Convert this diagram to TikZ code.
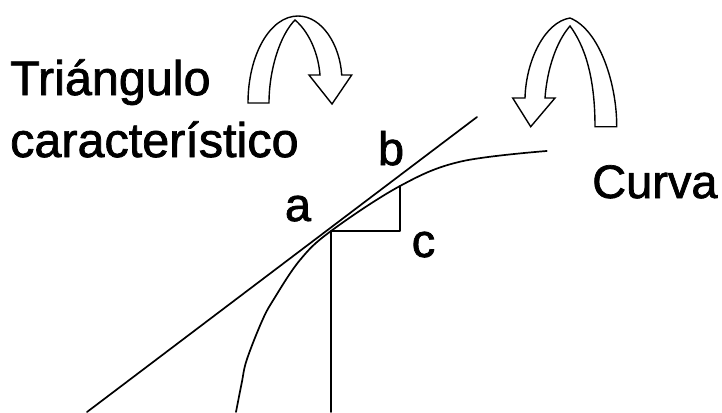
\documentclass[tikz,border=0pt]{standalone}
\usepackage{fontspec}
\setmainfont{Liberation Sans}[FakeBold=1.5]
\begin{document}
\begin{tikzpicture}[x=1pt,y=-1pt,
  lbl/.style={inner sep=0pt,font=\fontsize{47}{56}\selectfont\addfontfeature{FakeBold=1.5}},
  biglbl/.style={lbl,font=\fontsize{48.5}{58}\selectfont\addfontfeature{FakeBold=1.5}},
  ln/.style={line width=1.7pt,line join=round,line cap=round},
  bent/.style={draw,fill=white,line width=1.4pt,line join=miter}]
\useasboundingbox[fill=white] (0,0) rectangle (722,412);
% labels
\node[biglbl,anchor=base west] (t1) at (10,95) {Triángulo};
\node[biglbl,anchor=base west] (t2) at (10,157) {característico};
\node[lbl,anchor=base west] (cv) at (592,198) {Curva};
\node[lbl,anchor=base] (la) at (298,221) {a};
\node[lbl,anchor=base] (lb) at (391,165) {b};
\node[lbl,anchor=base] (lc) at (423.5,257) {c};
% points
\coordinate (A) at (331,231);
\coordinate (C) at (400,231);
\coordinate (B) at (400,186);
\coordinate (T0) at (87,412);
\coordinate (T1) at (477,117);
\coordinate (V0) at (331,412);
% tangent line
\draw[ln] (T0) -- (T1);
% curve
\draw[ln] plot[smooth,tension=0.6] coordinates {(236,412) (241.7,383) (246.7,360) (261.7,321.7) (273.3,300) (300,260) (331,231) (400,186) (460,161.7) (546.7,151)};
% triangle and vertical
\draw[ln] (V0) -- (A) -- (C) -- (B);
% left bent arrow
\draw[bent] (248,103) .. controls (248,55) and (270,16) .. (298,16)
  .. controls (322,16) and (340,45) .. (341.7,75) -- (351.7,75) -- (332,104) -- (309,75) -- (320,75)
  .. controls (318,50) and (307,30) .. (295,20)
  .. controls (280,35) and (269,70) .. (269,103) -- cycle;
% right bent arrow
\draw[bent] (616.7,126.7) .. controls (617,85) and (600,30) .. (570,18)
  .. controls (545,22) and (526,60) .. (525,98) -- (512.7,98) -- (530.7,126.7) -- (555,98) -- (545,98)
  .. controls (547,70) and (556,42) .. (570,26)
  .. controls (584,45) and (595,75) .. (595,126.7) -- cycle;
\end{tikzpicture}
\end{document}
